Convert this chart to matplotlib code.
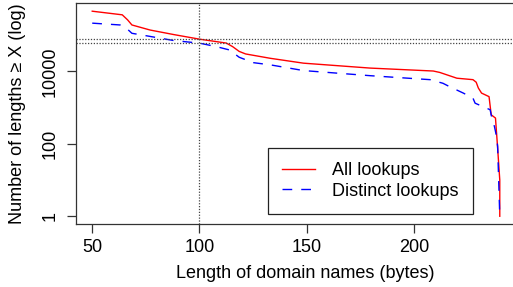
import numpy as np
import matplotlib
matplotlib.use('Agg')
from matplotlib import pyplot as plt

# complementary cumulative counts
all_len = [50, 64, 66.5, 68.5, 77, 88, 100, 112.5, 115.5, 118.5, 121.5, 133,
           148.5, 179.5, 209, 212, 220, 227.5, 229, 230, 231.5, 235, 236,
           238, 239, 240, 240]
all_cnt = [457000, 363000, 263000, 190500, 138000, 103500, 77300, 60300,
           47900, 35500, 30200, 22900, 16800, 12300, 10200, 9330, 6460, 5890,
           5010, 3470, 2510, 2000, 631, 513, 76, 10, 1]

dist_len = [50, 63, 66.5, 68.5, 72.5, 88, 100, 108, 114, 118.5, 125, 133,
            148.5, 179.5, 207.5, 213.5, 216.5, 223, 227.5, 228.5, 235.5,
            236.5, 237.5, 238.5, 239, 240]
dist_cnt = [213800, 190500, 144500, 112200, 102300, 70800, 60000, 47900,
            38900, 24500, 17400, 15100, 10500, 7590, 5890, 4680, 3800, 2510,
            1820, 1320, 871, 457, 302, 158, 85, 1]

ref_len = 100
x_ticks = [50, 100, 150, 200]
y_ticks = [1, 100, 10000]
y_tick_labels = ['1', '100', '10000']

plt.rcParams['font.family'] = ['Liberation Sans', 'DejaVu Sans']

fig = plt.figure(figsize=(5.13, 2.87), dpi=100)
ax = fig.add_axes([0.148, 0.218, 0.858, 0.772])

ax.plot(all_len, all_cnt, color='red', lw=1.0, label='All lookups')
ax.plot(dist_len, dist_cnt, color='blue', lw=1.0, dashes=(7, 6.5),
        label='Distinct lookups')

ax.set_yscale('log')
ax.set_xlim(42.4, 247.6)
ax.set_ylim(0.594, 7.76e5)

# reference lines at length 100
dot = dict(color='#444444', lw=0.9, linestyle=(0, (1, 1.3)))
ax.axvline(ref_len, **dot)
ax.axhline(all_cnt[all_len.index(ref_len)], **dot)
ax.axhline(dist_cnt[dist_len.index(ref_len)], **dot)

ax.set_xticks(x_ticks)
ax.set_yticks(y_ticks)
ax.set_yticklabels(y_tick_labels, rotation=90, va='center')
ax.yaxis.set_minor_locator(matplotlib.ticker.NullLocator())
ax.tick_params(labelsize=13, length=6.3, width=0.9, color='#333333')
ax.tick_params(axis='x', pad=4.5)
ax.tick_params(axis='y', pad=6)
for s in ax.spines.values():
    s.set_linewidth(0.9)
    s.set_color('#333333')

ax.set_xlabel('Length of domain names (bytes)', fontsize=13, labelpad=6)
ax.xaxis.label.set_x(0.52)
ax.set_ylabel('Number of lengths \u2265 X (log)', fontsize=13)
ax.yaxis.set_label_coords(-0.114, 0.5)

leg = ax.legend(loc='lower right', bbox_to_anchor=(0.902, 0.047),
                fontsize=13, handlelength=1.8, handletextpad=0.96,
                borderpad=0.8, labelspacing=0.2, borderaxespad=0,
                fancybox=False, framealpha=1, edgecolor='#222222')
leg.get_frame().set_linewidth(0.9)

fig.savefig('out.png', dpi=100)
